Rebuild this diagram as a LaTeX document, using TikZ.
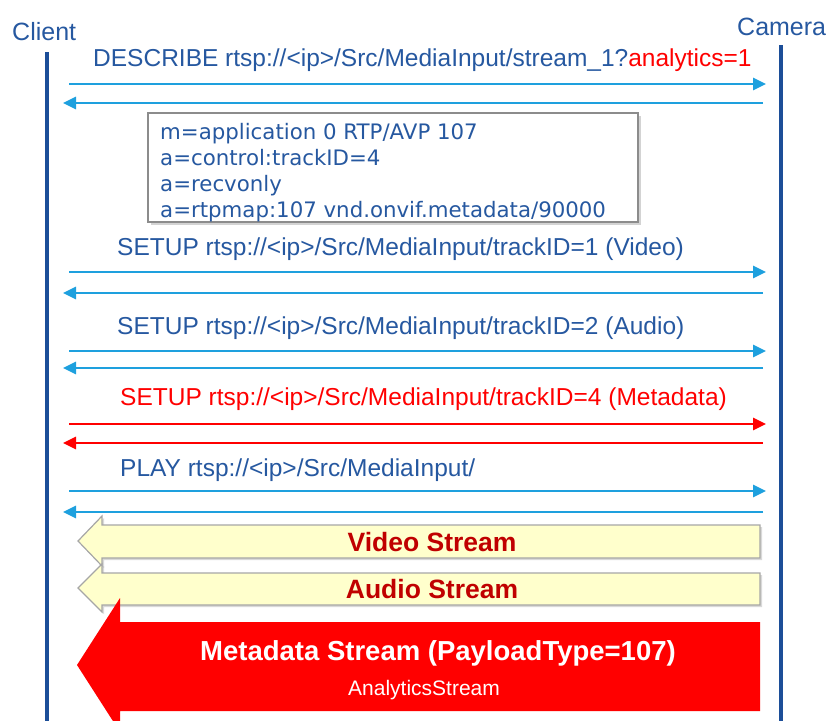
\documentclass[tikz,border=0pt]{standalone}
\usepackage{fontspec}
\setmainfont{Liberation Sans}
\newfontfamily\sdpfont{DejaVu Sans}
\usetikzlibrary{positioning,arrows.meta,shadows}
\definecolor{lifeblue}{RGB}{28,78,152}
\definecolor{msgblue}{RGB}{30,160,222}
\definecolor{txtblue}{RGB}{38,88,160}
\definecolor{darkred}{RGB}{192,0,0}
\definecolor{paleyellow}{RGB}{255,255,204}

\begin{document}
\begin{tikzpicture}[x=1pt,y=-1pt,
  life/.style={draw=lifeblue,line width=4pt},
  msg/.style={line width=2.8pt,-{Triangle[length=13pt,width=12pt]}},
  lbl/.style={inner sep=0pt,text=txtblue,font=\fontsize{24.5}{29}\selectfont},
  who/.style={inner sep=0pt,text=txtblue,font=\fontsize{25}{30}\selectfont},
  stream/.style={inner sep=0pt,font=\bfseries\fontsize{26.5}{31}\selectfont}]
\useasboundingbox (0,0) rectangle (829,720);
\clip (0,0) rectangle (829,720);

% lifelines
\node[who,anchor=base west] (client) at (12,40) {Client};
\node[who,anchor=base west] (camera) at (737,35) {Camera};
\coordinate (cl top) at (47,52);
\coordinate (cl bot) at (47,722);
\coordinate (ca top) at (781,45);
\coordinate (ca bot) at (781,722);
\draw[life] (cl top) -- (cl bot);
\draw[life] (ca top) -- (ca bot);

% requests and replies
\foreach \n/\yf/\yb/\col in {1/84/103/msgblue,2/272/293/msgblue,3/351/368/msgblue,4/424/443/red,5/491/512/msgblue}{
  \coordinate (req\n) at (69,\yf);
  \coordinate (cam\n) at (766,\yf);
  \coordinate (rep\n) at (763,\yb);
  \coordinate (cli\n) at (63,\yb);
  \draw[msg,draw=\col] (req\n) -- (cam\n);
  \draw[msg,draw=\col] (rep\n) -- (cli\n);
}

\node[lbl,anchor=base west] (describe) at (93,66) {DESCRIBE rtsp://<ip>/Src/MediaInput/stream\_1?\textcolor{red}{analytics=1}};
\node[lbl,anchor=base west] (setupv) at (117,255) {SETUP rtsp://<ip>/Src/MediaInput/trackID=1 (Video)};
\node[lbl,anchor=base west] (setupa) at (117,334) {SETUP rtsp://<ip>/Src/MediaInput/trackID=2 (Audio)};
\node[lbl,anchor=base west,text=red] (setupm) at (120,405) {SETUP rtsp://<ip>/Src/MediaInput/trackID=4 (Metadata)};
\node[lbl,anchor=base west] (play) at (120,476) {PLAY rtsp://<ip>/Src/MediaInput/};

% sdp answer
\node[draw=black!45,line width=1.5pt,fill=white,anchor=north west,minimum width=490,minimum height=109,
  drop shadow={opacity=0.35,shadow xshift=3pt,shadow yshift=-3pt}] (sdp) at (147,112) {};
\node[inner sep=0pt,anchor=north west,align=left,text=txtblue,font=\sdpfont\fontsize{21.3}{26}\selectfont] (sdptext) at (160,123)
  {m=application 0 RTP/AVP 107\\a=control:trackID=4\\a=recvonly\\a=rtpmap:107 vnd.onvif.metadata/90000};

% streams
\filldraw[fill=paleyellow,draw=black!35,line width=1.2pt,drop shadow={opacity=0.3,shadow xshift=2pt,shadow yshift=-2pt}]
  (78,541) -- (102,516) -- (102,525) -- (760,525) -- (760,558) -- (102,558) -- (102,566) -- cycle;
\filldraw[fill=paleyellow,draw=black!35,line width=1.2pt,drop shadow={opacity=0.3,shadow xshift=2pt,shadow yshift=-2pt}]
  (78,588) -- (102,564) -- (102,573) -- (760,573) -- (760,605) -- (102,605) -- (102,612) -- cycle;
\fill[red] (77,665) -- (120,598) -- (120,622) -- (760,622) -- (760,711) -- (120,711) -- (120,732) -- cycle;

\node[stream,text=darkred] (video) at (432,542) {Video Stream};
\node[stream,text=darkred] (audio) at (432,589) {Audio Stream};
\node[stream,text=white,font=\bfseries\fontsize{27.5}{32}\selectfont] (meta) at (438,653) {Metadata Stream (PayloadType=107)};
\node[inner sep=0pt,text=white,font=\fontsize{21}{25}\selectfont] (analytics) at (424,690) {AnalyticsStream};
\end{tikzpicture}
\end{document}
